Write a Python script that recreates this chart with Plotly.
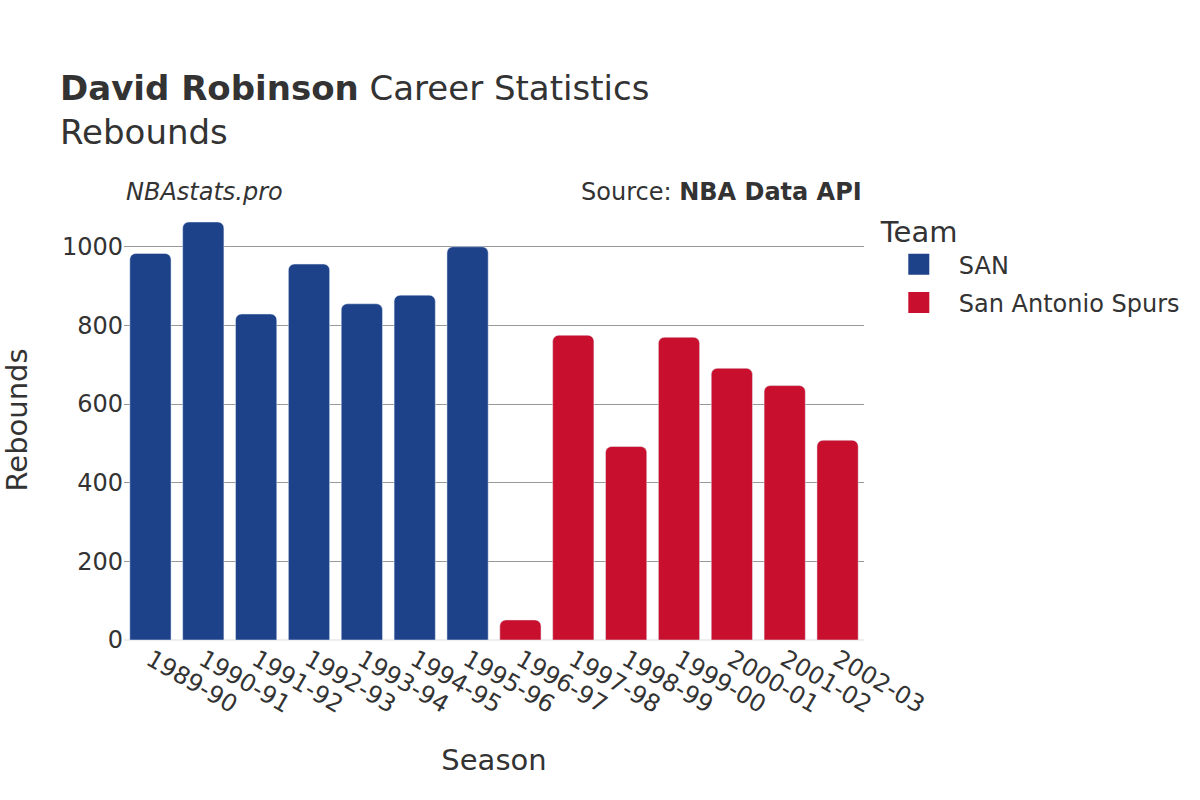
import plotly.graph_objects as go

seasons_san = ["1989-90", "1990-91", "1991-92", "1992-93", "1993-94", "1994-95", "1995-96"]
reb_san = [983, 1063, 829, 956, 855, 877, 1000]
seasons_spurs = ["1996-97", "1997-98", "1998-99", "1999-00", "2000-01", "2001-02", "2002-03"]
reb_spurs = [51, 775, 492, 770, 691, 647, 508]

BLUE = "#1D428A"
RED = "#C8102E"
FONT = "DejaVu Sans"

fig = go.Figure()
fig.add_trace(go.Bar(x=seasons_san, y=reb_san, name="SAN", marker_color=BLUE,
                     legendgroup="SAN", showlegend=False))
fig.add_trace(go.Bar(x=seasons_spurs, y=reb_spurs, name="San Antonio Spurs", marker_color=RED,
                     legendgroup="SAS", showlegend=False))
# legend entries with larger square symbols
for nm, col, grp in [("SAN", BLUE, "SAN"), ("San Antonio Spurs", RED, "SAS")]:
    fig.add_trace(go.Scatter(x=[None], y=[None], mode="markers", name=nm, legendgroup=grp,
                             marker=dict(symbol="square", size=16, color=col,
                                         line=dict(color=col, width=5))))

fig.update_layout(
    width=1200, height=800,
    font=dict(family=FONT, size=24, color="#333333"),
    paper_bgcolor="white", plot_bgcolor="white",
    barcornerradius=6,
    bargap=0.22,
    title=dict(text="<b>David Robinson</b> Career Statistics<br>Rebounds", x=0.05, xanchor="left",
               y=0.875, yanchor="top", font=dict(size=34, color="#333333")),
    margin=dict(l=122, r=336, t=200, b=160),
    legend=dict(title=dict(text="Team"), x=1.02, y=0.99, yanchor="top", xanchor="left",
                font=dict(size=24), tracegroupgap=4, indentation=0, itemwidth=70),
    xaxis=dict(title=dict(text="Season", standoff=31), tickangle=30, categoryorder="array",
               categoryarray=seasons_san + seasons_spurs, showgrid=False),
    yaxis=dict(title=dict(text="Rebounds", standoff=30), gridcolor="#999999", zeroline=True,
               zerolinecolor="#eeeeee", zerolinewidth=2, dtick=200),
    annotations=[
        dict(text="<i>NBAstats.pro</i>", xref="paper", yref="paper", x=0.0, y=1.018,
             xanchor="left", yanchor="middle", showarrow=False, font=dict(size=24)),
        dict(text="Source: <b>NBA Data API</b>", xref="paper", yref="paper", x=1.0, y=1.018,
             xanchor="right", yanchor="middle", showarrow=False, font=dict(size=24)),
    ],
)
fig.write_html("out.html", config={"displayModeBar": False},
               post_script="document.body.style.margin='0';")
